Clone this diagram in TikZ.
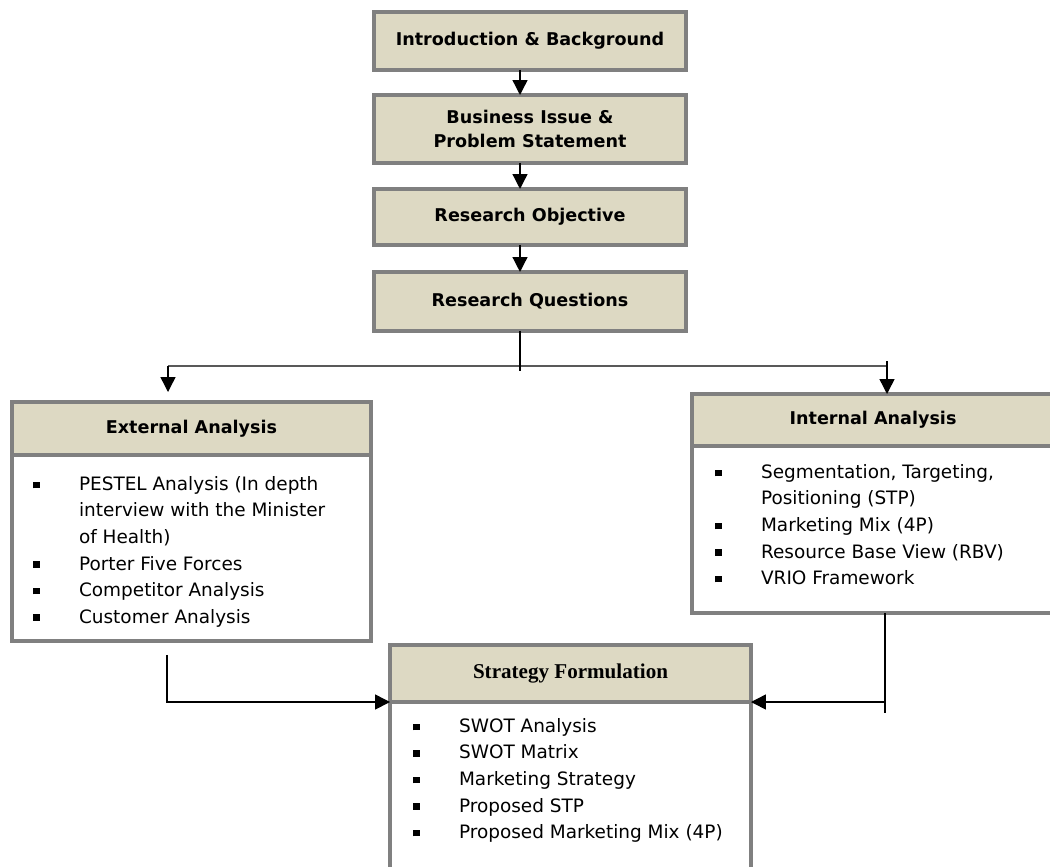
\documentclass[tikz,border=0pt]{standalone}
\usepackage{fontspec}
\setmainfont{DejaVu Sans}
\newfontfamily\serifhdr{Liberation Serif}
\usetikzlibrary{positioning, arrows.meta}
\definecolor{tan}{HTML}{DDD9C3}
\definecolor{edge}{HTML}{808080}
\tikzstyle{boxhead} = [rectangle, minimum width = 6.24cm, text centered, align = center, draw = edge, line width = 0.08cm, fill = tan, outer sep = 0pt, font = \bfseries\fontsize{10}{13.6}\selectfont]
\tikzstyle{boxbody} = [rectangle, draw = edge, line width = 0.08cm, fill = white, outer sep = 0pt]
\tikzstyle{itemlist} = [anchor = north west, inner sep = 0pt, font = \fontsize{10.5}{15.1}\selectfont]
\tikzstyle{link} = [line width = 0.8pt]
\tikzstyle{arrow} = [line width = 0.8pt, -{Triangle[length = 8.5pt, width = 8.5pt]}]
\newcommand{\sq}{\raisebox{1.2pt}{\rule{3.6pt}{3.8pt}}}

\begin{document}
\begin{tikzpicture}[x = 0.02cm, y = 0.02cm]
    \useasboundingbox (0,0) rectangle (1050,-866);

    % main chain
    \node(intro)[boxhead, minimum height = 1.16cm] at (530,-41) {Introduction \& Background};
    \node(bus)[boxhead, minimum height = 1.36cm, below = 0.5cm of intro]{Business Issue \&\\Problem Statement};
    \node(obj)[boxhead, minimum height = 1.12cm, below = 0.52cm of bus]{Research Objective};
    \node(rq)[boxhead, minimum height = 1.18cm, below = 0.54cm of obj]{Research Questions};

    % external analysis
    \node(exthdr)[boxhead, minimum width = 7.18cm, minimum height = 1.06cm] at (191.5,-428.5) {External Analysis};
    \node(extbody)[boxbody, minimum width = 7.18cm, minimum height = 3.72cm, below = 0pt of exthdr]{};
    \node(extlist)[itemlist] at ([xshift = 0.42cm, yshift = -0.33cm]extbody.north west) {\begin{tabular}{@{}p{26pt}@{}l@{}}
        \sq & PESTEL Analysis (In depth\\
            & interview with the Minister\\
            & of Health)\\
        \sq & Porter Five Forces\\
        \sq & Competitor Analysis\\
        \sq & Customer Analysis
    \end{tabular}};

    % internal analysis
    \node(inthdr)[boxhead, minimum width = 7.24cm, minimum height = 1.04cm] at (873,-420) {Internal Analysis};
    \node(intbody)[boxbody, minimum width = 7.24cm, minimum height = 3.34cm, below = 0pt of inthdr]{};
    \node(intlist)[itemlist] at ([xshift = 0.46cm, yshift = -0.27cm]intbody.north west) {\begin{tabular}{@{}p{26pt}@{}l@{}}
        \sq & Segmentation, Targeting,\\
            & Positioning (STP)\\
        \sq & Marketing Mix (4P)\\
        \sq & Resource Base View (RBV)\\
        \sq & VRIO Framework
    \end{tabular}};

    % strategy formulation
    \node(strhdr)[boxhead, minimum width = 7.22cm, minimum height = 1.14cm, font = \serifhdr\bfseries\fontsize{12}{14}\selectfont] at (570.5,-673.5) {Strategy Formulation};
    \node(strbody)[boxbody, minimum width = 7.22cm, minimum height = 4cm, below = 0pt of strhdr]{};
    \node(strlist)[itemlist] at ([xshift = 0.46cm, yshift = -0.23cm]strbody.north west) {\begin{tabular}{@{}p{26pt}@{}l@{}}
        \sq & SWOT Analysis\\
        \sq & SWOT Matrix\\
        \sq & Marketing Strategy\\
        \sq & Proposed STP\\
        \sq & Proposed Marketing Mix (4P)
    \end{tabular}};

    % connectors
    \draw[arrow]([xshift = -0.2cm]intro.south)--([xshift = -0.2cm]bus.north);
    \draw[arrow]([xshift = -0.2cm]bus.south)--([xshift = -0.2cm]obj.north);
    \draw[arrow]([xshift = -0.2cm]obj.south)--([xshift = -0.2cm]rq.north);
    \draw[link]([xshift = -0.2cm]rq.south)--++(0,-0.8cm);

    \coordinate(lsplit) at ([xshift = -0.47cm, yshift = 0.72cm]exthdr.north);
    \coordinate(rsplit) at ([xshift = 0.28cm, yshift = 0.56cm]inthdr.north);
    \draw[link](lsplit)--(rsplit);
    \draw[arrow](lsplit)--++(0,-0.52cm);
    \draw[arrow]([yshift = 0.1cm]rsplit)--([xshift = 0.28cm]inthdr.north);

    \draw[arrow]([xshift = -0.49cm, yshift = -0.28cm]extbody.south)|-(strhdr.south west);
    \draw[link]([xshift = 0.24cm]intbody.south)--++(0,-2cm);
    \draw[arrow]([xshift = 0.24cm]intbody.south |- strhdr.south east)--(strhdr.south east);
\end{tikzpicture}
\end{document}
